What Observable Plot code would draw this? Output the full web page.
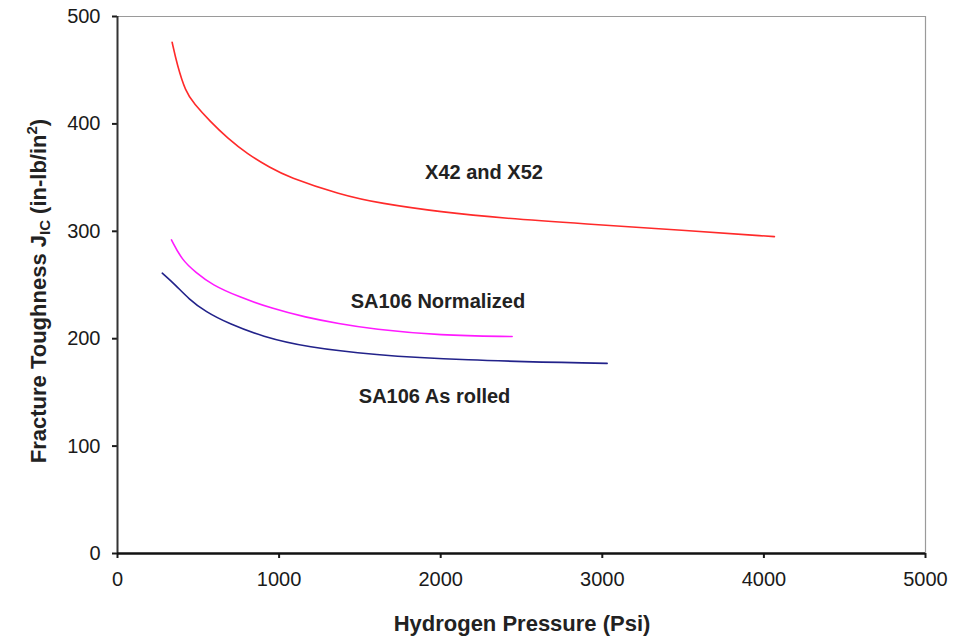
<!DOCTYPE html>
<html>
<head>
<meta charset="utf-8">
<script src="https://cdn.jsdelivr.net/npm/d3@7"></script>
<script src="https://cdn.jsdelivr.net/npm/@observablehq/plot@0.6"></script>
<style>
  html, body { margin: 0; padding: 0; background: white; }
</style>
</head>
<body>
<div id="chart"></div>
<script>
// Tick values
const xTicks = [0, 1000, 2000, 3000, 4000, 5000];
const yTicks = [0, 100, 200, 300, 400, 500];

// Series: X42 and X52
const x42P = [338, 369, 421, 472, 575, 679, 803, 947, 1050, 1380, 1627, 1999, 2400, 2884, 3500, 4065];
const x42J = [476, 455, 430, 419, 402, 387, 372, 359, 351, 334, 326, 318, 312, 307, 301, 295];

// Series: SA106 Normalized
const normP = [334, 400, 483, 586, 751, 957, 1163, 1369, 1576, 1999, 2442];
const normJ = [292, 273, 262, 250, 239, 228, 220, 214, 209, 203, 202];

// Series: SA106 As rolled
const rollP = [277, 359, 441, 545, 689, 895, 1174, 1587, 2102, 3030];
const rollJ = [261, 250, 237, 225, 214, 202, 192, 185, 180, 177];

// Curve labels
const labelText = ["X42 and X52", "SA106 Normalized", "SA106 As rolled"];
const labelP = [2268, 1983, 1962];
const labelJ = [355, 235, 146];

const toRows = (xs, ys) => xs.map((x, i) => ({x, y: ys[i]}));
const labels = labelText.map((t, i) => ({t, x: labelP[i], y: labelJ[i]}));

const font = "'Liberation Sans', Arial, Helvetica, sans-serif";

const chart = Plot.plot({
  width: 967,
  height: 636,
  marginLeft: 117,
  marginRight: 42,
  marginTop: 16,
  marginBottom: 83,
  style: {fontFamily: font, background: "white", color: "#1a1a1a"},
  x: {domain: [0, 5000]},
  y: {domain: [0, 500]},
  marks: [
    Plot.ruleY([500], {stroke: "#9a9a9a", strokeWidth: 1.2}),
    Plot.ruleX([5000], {stroke: "#9a9a9a", strokeWidth: 1.2}),
    Plot.axisX({ticks: xTicks, tickSize: 5, tickPadding: 13, fontSize: 20, label: null, strokeWidth: 2, tickFormat: d => String(d)}),
    Plot.axisY({ticks: yTicks, tickSize: 5, tickPadding: 12, fontSize: 20, label: null, strokeWidth: 2, tickFormat: d => String(d)}),
    Plot.ruleX([0], {stroke: "#333", strokeWidth: 2}),
    Plot.ruleY([0], {stroke: "#111", strokeWidth: 2.5}),
    Plot.line(toRows(x42P, x42J), {x: "x", y: "y", stroke: "#ff2a2a", strokeWidth: 1.6, curve: "basis"}),
    Plot.line(toRows(normP, normJ), {x: "x", y: "y", stroke: "#ff1aff", strokeWidth: 1.6, curve: "basis"}),
    Plot.line(toRows(rollP, rollJ), {x: "x", y: "y", stroke: "#22228a", strokeWidth: 1.6, curve: "basis"}),
    Plot.text(labels, {x: "x", y: "y", text: "t", fontSize: 20, fontWeight: "bold", fill: "#222"})
  ]
});

document.getElementById("chart").appendChild(chart);

const svg = d3.select(chart);
// X axis title
svg.append("text")
  .attr("x", 522).attr("y", 631)
  .attr("text-anchor", "middle")
  .attr("font-family", font)
  .attr("font-size", 22)
  .attr("font-weight", "bold")
  .attr("fill", "#222")
  .text("Hydrogen Pressure (Psi)");

// Y axis title with subscript / superscript
const yt = svg.append("text")
  .attr("transform", "translate(46,291) rotate(-90)")
  .attr("text-anchor", "middle")
  .attr("font-family", font)
  .attr("font-size", 22)
  .attr("font-weight", "bold")
  .attr("fill", "#222");
yt.append("tspan").text("Fracture Toughness J");
yt.append("tspan").attr("font-size", 15).attr("dy", 4).text("IC");
yt.append("tspan").attr("dy", -4).text(" (in-lb/in");
yt.append("tspan").attr("font-size", 15).attr("dy", -9).text("2");
yt.append("tspan").attr("dy", 9).text(")");
</script>
</body>
</html>
